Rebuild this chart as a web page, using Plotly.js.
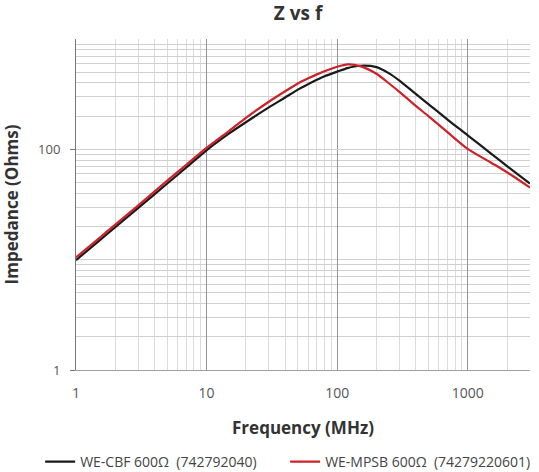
<!DOCTYPE html>
<html>
<head>
<meta charset="utf-8">
<script src="https://cdn.plot.ly/plotly-3.0.1.min.js"></script>
<style>
  html, body { margin: 0; padding: 0; background: #fff; }
  #chart { width: 539px; height: 472px; }
</style>
</head>
<body>
<div id="chart"></div>
<script>
// frequency points (MHz)
const freq = [1, 1.5, 2, 3, 5, 7, 10, 15, 20, 30, 40, 50, 60, 70, 80, 100, 120, 150, 200, 250, 300, 400, 500, 700, 1000, 1500, 2000, 3000];

// impedance (Ohms)
const zCBF  = [9.9, 14.8, 19.7, 29.5, 49, 68.5, 98, 140, 176, 240, 295, 348, 390, 428, 460, 506, 545, 572, 556, 488, 420, 318, 257, 186, 134, 92, 70.5, 49];
const zMPSB = [10.5, 15.6, 20.8, 31, 52, 72.5, 103, 148, 193, 270, 336, 395, 440, 478, 510, 560, 588, 568, 484, 395, 332, 248, 200, 143, 101, 76, 62, 45];

const names = ['WE-CBF 600Ω\u00a0 (742792040)', 'WE-MPSB 600Ω\u00a0 (74279220601)'];
const colors = ['#1a1a1a', '#cc2229'];

const FONT = 'Open Sans, Noto Sans, sans-serif';

const traces = [zCBF, zMPSB].map((z, i) => ({
  x: freq, y: z,
  type: 'scatter', mode: 'lines',
  name: names[i],
  line: { color: colors[i], width: 2.2, shape: 'spline', smoothing: 0.7 },
}));

Plotly.newPlot('chart', traces, {
  width: 539, height: 472,
  margin: { l: 76, r: 9, t: 39, b: 102, autoexpand: false },
  paper_bgcolor: '#fff', plot_bgcolor: '#fff',
  font: { family: FONT, color: '#444' },
  title: {
    text: '<b>Z vs f</b>',
    font: { size: 19, color: '#333', family: FONT },
    x: 0.553, xanchor: 'center', y: 0.972, yanchor: 'middle',
  },
  xaxis: {
    type: 'log', range: [0, Math.log10(3000)],
    dtick: 1,
    tickfont: { size: 14, color: '#555' },
    ticklabelstandoff: 10,
    showgrid: true, gridcolor: '#8f969a', gridwidth: 1,
    minor: { dtick: 'D1', showgrid: true, gridcolor: '#dcdcdc', gridwidth: 1 },
    showline: true, linecolor: '#a0a0a0', linewidth: 1,
    ticks: '', zeroline: false,
    title: { text: '<b>Frequency (MHz)</b>', font: { size: 17, color: '#333' }, standoff: 21 },
  },
  yaxis: {
    type: 'log', range: [0, 3],
    tickmode: 'array', tickvals: [1, 100], ticktext: ['1', '100'],
    tickfont: { size: 13, color: '#555' },
    ticks: 'outside', ticklen: 5, tickcolor: '#777',
    ticklabelstandoff: 7,
    showgrid: true, gridcolor: '#d0d0d0', gridwidth: 1,
    minor: { dtick: 'D1', showgrid: true, gridcolor: '#d0d0d0', gridwidth: 1 },
    showline: true, linecolor: '#777', linewidth: 1,
    zeroline: false,
    title: { text: '<b>Impedance (Ohms)</b>', font: { size: 17, color: '#333' }, standoff: 17 },
  },
  showlegend: true,
  legend: {
    orientation: 'h',
    x: -0.079, xanchor: 'left', y: -0.278, yanchor: 'middle',
    font: { size: 14, color: '#444' },
    itemwidth: 30,
    entrywidth: 200, entrywidthmode: 'pixels',
  },
}, { displayModeBar: false });
</script>
</body>
</html>
